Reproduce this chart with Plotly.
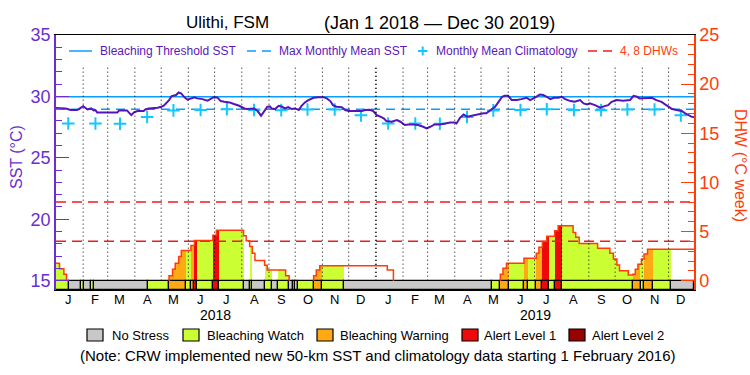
import pandas as pd
import plotly.graph_objects as go

# ---------------- data ----------------
start = pd.Timestamp("2018-01-01")
end = pd.Timestamp("2019-12-30")

# daily SST (deg C): days after 1 Jan 2018 and value
sst_day = [0, 9, 11, 17, 24, 26, 31, 36, 40, 43, 45, 47, 70, 72, 81, 83, 86, 89, 93, 100,
           102, 106, 112, 116, 120, 123, 129, 132, 137, 140, 143, 146, 150, 154, 158, 161, 167, 173, 177, 180,
           184, 188, 192, 198, 203, 209, 215, 218, 226, 230, 234, 237, 241, 244, 246, 250, 254, 258, 261, 265,
           269, 273, 277, 280, 284, 288, 294, 299, 305, 309, 313, 316, 320, 326, 330, 334, 349, 353, 358, 362,
           366, 370, 374, 377, 383, 389, 393, 398, 402, 408, 413, 419, 423, 427, 432, 438, 444, 450, 455, 457,
           461, 465, 469, 474, 482, 488, 491, 495, 501, 505, 509, 512, 516, 520, 526, 531, 537, 541, 545, 548,
           552, 556, 560, 564, 568, 573, 577, 581, 587, 592, 598, 602, 606, 609, 615, 621, 625, 630, 634, 640,
           647, 655, 659, 663, 666, 674, 680, 685, 691, 695, 699, 703, 708, 714, 718, 722, 725, 728]
sst_val = [29.05, 29.05, 29.02, 28.89, 28.89, 28.97, 29.21, 28.94, 29.02, 28.86, 28.89, 28.70, 28.70, 28.86, 28.86, 28.70, 28.48, 28.70, 28.81, 28.81,
           28.94, 29.02, 29.02, 29.08, 29.16, 29.24, 29.70, 30.03, 30.11, 30.32, 30.24, 29.97, 29.73, 29.84, 29.92, 29.84, 29.78, 29.65, 29.78, 29.94,
           29.92, 29.62, 29.56, 29.51, 29.38, 29.24, 29.02, 28.97, 29.02, 28.81, 28.43, 28.75, 29.15, 29.19, 29.02, 28.97, 29.24, 29.16, 29.02, 29.13,
           28.97, 29.02, 28.89, 29.21, 29.51, 29.70, 29.89, 29.94, 29.94, 29.84, 29.62, 29.29, 29.16, 29.13, 28.89, 28.81, 28.81, 28.89, 28.91, 28.81,
           28.48, 28.35, 28.21, 27.99, 27.94, 28.07, 27.94, 27.67, 27.72, 27.72, 27.67, 27.53, 27.40, 27.53, 27.72, 27.72, 27.80, 27.88, 27.88, 27.80,
           28.26, 28.53, 28.35, 28.43, 28.53, 28.62, 28.62, 28.81, 29.16, 29.56, 29.97, 30.05, 30.05, 29.70, 29.70, 29.78, 29.89, 29.70, 29.84, 29.97,
           30.16, 30.11, 29.97, 29.78, 29.89, 29.89, 29.97, 29.78, 29.62, 29.56, 29.70, 29.43, 29.35, 29.43, 29.29, 29.08, 29.19, 29.29, 29.56, 29.70,
           29.65, 29.70, 30.05, 29.97, 29.84, 29.89, 29.89, 29.70, 29.56, 29.35, 29.16, 28.97, 28.89, 28.81, 28.62, 28.43, 28.35, 28.30]

# monthly mean climatology (Jan..Dec), shown mid-month in both years
clim_val = [27.80, 27.80, 27.78, 28.32, 28.86, 28.90, 28.95, 28.90, 28.88, 28.94, 28.94, 28.46]
mmm_sst = 28.96
threshold_sst = 29.98

# degree heating weeks (stepwise): days after 1 Jan 2018 and value
dhw_day = [0, 4, 9, 12, 129, 133, 136, 140, 143, 154, 158, 179, 183, 214, 217, 221, 224, 227, 238, 241,
           262, 266, 294, 297, 301, 378, 385, 507, 510, 514, 534, 548, 551, 555, 560, 569, 573, 590, 593, 597,
           618, 632, 636, 640, 643, 653, 658, 661, 664, 668, 671, 675]
dhw_val = [1.78, 1.22, 0.65, 0.0, 0.50, 1.16, 1.77, 2.45, 3.06, 3.57, 4.08, 4.63, 5.14, 4.56, 4.05, 3.47, 2.80, 2.04, 1.57, 1.09,
           0.51, 0.0, 0.51, 1.09, 1.53, 1.09, 0.0, 0.65, 1.27, 1.78, 2.29, 2.80, 3.41, 3.98, 4.53, 5.07, 5.58, 4.90, 4.43, 3.78,
           3.30, 2.80, 2.21, 1.60, 1.02, 0.58, 0.65, 1.16, 1.67, 2.21, 2.72, 3.20]
dhw_levels = [4, 8]

# bleaching alert status runs: start day and level (0 none .. 4 alert 2)
status_day = [0, 15, 29, 32, 40, 43, 105, 129, 148, 154, 158, 161, 179, 186, 214, 221, 224, 238, 246, 253,
              266, 270, 273, 276, 294, 304, 329, 497, 507, 517, 534, 539, 548, 555, 562, 569, 577, 658, 667, 671,
              681, 702]
status_code = [1, 0, 1, 0, 1, 0, 1, 2, 1, 2, 3, 1, 3, 1, 0, 1, 0, 1, 0, 1,
               0, 1, 0, 1, 2, 1, 0, 1, 2, 1, 2, 1, 2, 3, 1, 3, 1, 2, 1, 2,
               1, 0]
status_names = ["No Stress", "Bleaching Watch", "Bleaching Warning", "Alert Level 1", "Alert Level 2"]

month_letters = ["J", "F", "M", "A", "M", "J", "J", "A", "S", "O", "N", "D"]
year_labels = ["2018", "2019"]

# ---------------- styling ----------------
FONT = "Liberation Sans, Arial, sans-serif"
PURPLE_AX = "#6a2ed2"
PURPLE_TXT = "#5a18b8"
SST_LINE = "#5514b9"
ORANGE = "#ff3c0a"
CYAN_LINE = "#0a9cff"
CYAN_MARK = "#10c8ff"
DHW_DASH = "#ee1c1c"
status_colors = ["#c8c8c8", "#ccff33", "#ffaa14", "#ee0a0a", "#990000"]

DAY_MS = 86400000
end_day = (end - start).days
Y2_MIN = -0.95
Y1_MIN = 15 - 0.95 * 0.8

# plot area in pixels
L, R, T, B = 56, 694, 35, 290
def px(x):
    return (x - L) / (R - L)
def py(y):
    return (B - y) / (B - T)

def to_date(d):
    return start + pd.Timedelta(days=d)

def step_at(days, vals, t):
    v = vals[0]
    for d, x in zip(days, vals):
        if d <= t:
            v = x
        else:
            break
    return v

fig = go.Figure()

# threshold / MMM lines
fig.add_trace(go.Scatter(x=[start, end], y=[threshold_sst, threshold_sst], mode="lines",
                         line=dict(color=CYAN_LINE, width=1.5), hoverinfo="skip", showlegend=False))
fig.add_trace(go.Scatter(x=[start, end], y=[mmm_sst, mmm_sst], mode="lines",
                         line=dict(color=CYAN_LINE, width=1.5, dash="9px,6px"), hoverinfo="skip", showlegend=False))

# climatology markers
clim_dates = [pd.Timestamp(year=y, month=m + 1, day=15) for y in (2018, 2019) for m in range(12)]
fig.add_trace(go.Scatter(x=clim_dates, y=clim_val * 2, mode="markers",
                         marker=dict(symbol="cross-thin", size=9, line=dict(color=CYAN_MARK, width=2)),
                         showlegend=False))

# SST
fig.add_trace(go.Scatter(x=[to_date(d) for d in sst_day], y=sst_val, mode="lines",
                         line=dict(color=SST_LINE, width=2), showlegend=False))

# DHW fill, coloured by status
breaks = sorted(set(status_day + dhw_day + [end_day]))
fx, fw, fh, fc = [], [], [], []
for a, b in zip(breaks[:-1], breaks[1:]):
    s = step_at(status_day, status_code, a)
    h = step_at(dhw_day, dhw_val, a)
    if s > 0 and h > 0:
        fx.append(to_date(a))
        fw.append((b - a) * DAY_MS)
        fh.append(h)
        fc.append(status_colors[s])
fig.add_trace(go.Bar(x=fx, y=fh, width=fw, offset=0, base=0, yaxis="y2",
                     marker=dict(color=fc, line=dict(width=0)), showlegend=False, hoverinfo="skip"))

# DHW threshold dashes
for lv in dhw_levels:
    fig.add_trace(go.Scatter(x=[start, end], y=[lv, lv], mode="lines", yaxis="y2",
                             line=dict(color=DHW_DASH, width=1.5, dash="10px,6px"),
                             hoverinfo="skip", showlegend=False))

# DHW outline
ox, oy = [], []
for i, (d, v) in enumerate(zip(dhw_day, dhw_val)):
    if v > 0:
        if i > 0 and dhw_val[i - 1] == 0:
            ox.append(to_date(d)); oy.append(0)
        ox.append(to_date(d)); oy.append(v)
    elif i > 0 and dhw_val[i - 1] > 0:
        ox.append(to_date(d)); oy.append(0)
        ox.append(None); oy.append(None)
if dhw_val[-1] > 0:
    ox.append(end); oy.append(dhw_val[-1])
fig.add_trace(go.Scatter(x=ox, y=oy, mode="lines", yaxis="y2", line=dict(color=ORANGE, width=1.5, shape="hv"),
                         connectgaps=False, showlegend=False, hoverinfo="skip"))

# status bar
st_end = status_day[1:] + [end_day]
fig.add_trace(go.Bar(x=[to_date(d) for d in status_day], y=[-Y2_MIN] * len(status_day), base=Y2_MIN,
                     width=[(e - d) * DAY_MS for d, e in zip(status_day, st_end)], offset=0, yaxis="y2",
                     marker=dict(color=[status_colors[c] for c in status_code], line=dict(color="black", width=1.2)),
                     showlegend=False, hoverinfo="skip"))

shapes = []
# month separators (dotted)
for m in pd.date_range("2018-02-01", "2019-12-01", freq="MS"):
    shapes.append(dict(type="line", xref="x", yref="y", x0=m, x1=m, y0=15, y1=32.55,
                       line=dict(color="black", width=2 if m.month == 1 else 1, dash="1px,3px"), layer="above"))

annotations = []
def note(x, y, text, size, color, xref="paper", xanchor="center", angle=0):
    annotations.append(dict(x=x, y=y, xref=xref, yref="paper", text=text, showarrow=False,
                            xanchor=xanchor, yanchor="middle", textangle=angle,
                            font=dict(size=size, color=color, family=FONT)))

# month letters and years
for y in (2018, 2019):
    for m in range(12):
        note(pd.Timestamp(year=y, month=m + 1, day=15), py(299), month_letters[m], 13, "black", xref="x")
for i, yl in enumerate(year_labels):
    note(pd.Timestamp(year=2018 + i, month=7, day=2), py(315), yl, 14, "black", xref="x")

# title
note(px(227), py(23), "Ulithi, FSM", 17, "black")
note(px(439), py(23), "(Jan 1 2018 \u2014 Dec 30 2019)", 18, "black")

# axis titles
note(px(16), py(157), "SST (\u00b0C)", 16, PURPLE_AX, angle=-90)
note(px(741), py(165), "DHW (\u00b0C week)", 16, ORANGE, angle=90)

# top legend
LY = py(51)
shapes.append(dict(type="line", xref="paper", yref="paper", x0=px(69), x1=px(92), y0=LY, y1=LY,
                   line=dict(color=CYAN_LINE, width=1.5)))
shapes.append(dict(type="line", xref="paper", yref="paper", x0=px(247), x1=px(275), y0=LY, y1=LY,
                   line=dict(color=CYAN_LINE, width=1.5, dash="9px,6px")))
shapes.append(dict(type="line", xref="paper", yref="paper", x0=px(418), x1=px(427.5), y0=LY, y1=LY,
                   line=dict(color=CYAN_MARK, width=2)))
shapes.append(dict(type="line", xref="paper", yref="paper", x0=px(422.7), x1=px(422.7), y0=py(46.5), y1=py(55.5),
                   line=dict(color=CYAN_MARK, width=2)))
shapes.append(dict(type="line", xref="paper", yref="paper", x0=px(588), x1=px(612), y0=LY, y1=LY,
                   line=dict(color=DHW_DASH, width=1.5, dash="9px,6px")))
for xx, txt, col in [(98, "Bleaching Threshold SST", PURPLE_TXT), (277, "Max Monthly Mean SST", PURPLE_TXT),
                     (434, "Monthly Mean Climatology", PURPLE_TXT), (618, "4, 8 DHWs", ORANGE)]:
    note(px(xx), LY, txt, 12, col, xanchor="left")

# bottom status legend
box_x = [87, 183, 317, 462, 569]
txt_x = [110, 205, 338, 482, 590]
for i, name in enumerate(status_names):
    shapes.append(dict(type="rect", xref="paper", yref="paper", x0=px(box_x[i]), x1=px(box_x[i] + 16),
                       y0=py(341), y1=py(329), fillcolor=status_colors[i], line=dict(color="black", width=1.2)))
    note(px(txt_x[i]), py(335), name, 13, "black", xanchor="left")
note(px(378), py(355), "(Note: CRW implemented new 50-km SST and climatology data starting 1 February 2016)", 15, "black")

fig.update_layout(
    width=750, height=375,
    margin=dict(l=L, r=750 - R, t=T, b=375 - B, autoexpand=False),
    paper_bgcolor="white", plot_bgcolor="white",
    barmode="overlay", bargap=0, showlegend=False,
    xaxis=dict(type="date", range=[start, end], showticklabels=False, ticks="", showgrid=False,
               zeroline=False, showline=True, mirror=True, linecolor="black", linewidth=1.2),
    yaxis=dict(range=[Y1_MIN, 35], tickvals=[15, 20, 25, 30, 35], ticks="inside", ticklen=13, tickwidth=1.2,
               tickcolor=PURPLE_AX, showline=True, linecolor=PURPLE_AX, linewidth=1.5, showgrid=False,
               zeroline=False, tickfont=dict(size=18, color=PURPLE_AX, family=FONT), automargin=False,
               minor=dict(ticks="inside", ticklen=6, dtick=1, tick0=15, tickcolor=PURPLE_AX, tickwidth=1.2, showgrid=False)),
    yaxis2=dict(range=[Y2_MIN, 25], overlaying="y", side="right", tickvals=[0, 5, 10, 15, 20, 25], ticks="inside",
                ticklen=13, tickwidth=1.2, tickcolor=ORANGE, showline=True, linecolor=ORANGE, linewidth=1.5,
                showgrid=False, zeroline=False, tickfont=dict(size=18, color=ORANGE, family=FONT), automargin=False,
                minor=dict(ticks="inside", ticklen=6, dtick=1, tick0=0, tickcolor=ORANGE, tickwidth=1.2, showgrid=False)),
    shapes=shapes, annotations=annotations,
)

fig.write_html("out.html", config={"displayModeBar": False},
               post_script="document.body.style.margin='0';document.body.style.overflow='hidden';")
